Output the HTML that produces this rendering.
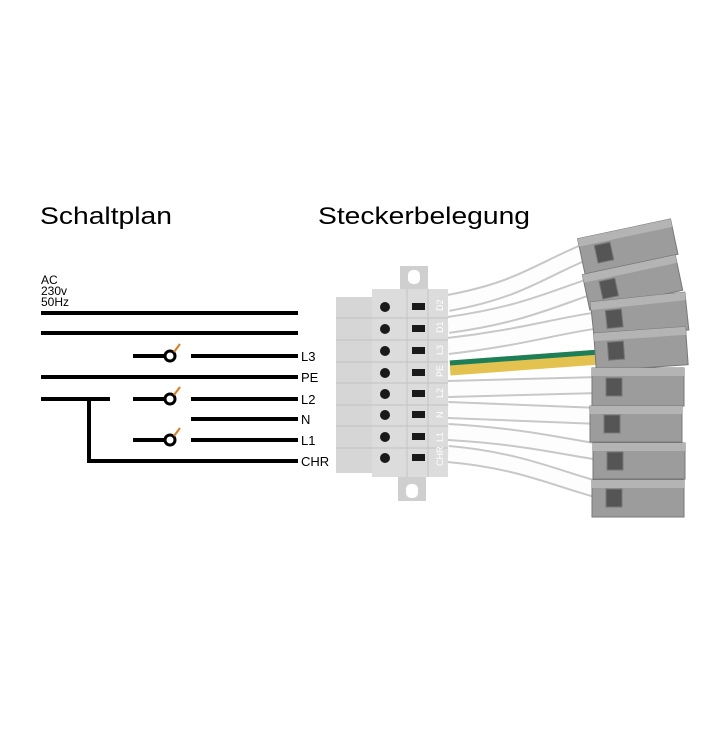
<!DOCTYPE html>
<html><head><style>
body{margin:0;background:#fff}
svg text{font-family:"Liberation Sans",sans-serif}
</style></head><body>
<svg width="724" height="724" xmlns="http://www.w3.org/2000/svg">
<rect width="724" height="724" fill="#fff"/>
<text x="40" y="224" font-size="24" textLength="132" lengthAdjust="spacingAndGlyphs">Schaltplan</text>
<text x="318" y="224" font-size="24" textLength="212" lengthAdjust="spacingAndGlyphs">Steckerbelegung</text>
<text x="41" y="284" font-size="12">AC</text>
<text x="41" y="295" font-size="12">230v</text>
<text x="41" y="306" font-size="12">50Hz</text>
<g stroke="#000" stroke-width="4" fill="none">
<line x1="41" y1="313" x2="298" y2="313"/>
<line x1="41" y1="333" x2="298" y2="333"/>
<line x1="133" y1="356" x2="165" y2="356"/><line x1="191" y1="356" x2="298" y2="356"/>
<line x1="41" y1="377" x2="298" y2="377"/>
<line x1="41" y1="399" x2="110" y2="399"/>
<line x1="133" y1="399" x2="165" y2="399"/><line x1="191" y1="399" x2="298" y2="399"/>
<line x1="191" y1="419" x2="298" y2="419"/>
<line x1="133" y1="440" x2="165" y2="440"/><line x1="191" y1="440" x2="298" y2="440"/>
<polyline points="89,399 89,461 298,461"/>
<circle cx="170" cy="356" r="5" stroke-width="3"/>
<circle cx="170" cy="399" r="5" stroke-width="3"/>
<circle cx="170" cy="440" r="5" stroke-width="3"/>
</g>
<g stroke="#e07a1f" stroke-width="2">
<line x1="174" y1="352" x2="180" y2="344"/>
<line x1="174" y1="395" x2="180" y2="387"/>
<line x1="174" y1="436" x2="180" y2="428"/>
</g>
<g font-size="13">
<text x="301" y="361">L3</text><text x="301" y="382">PE</text><text x="301" y="404">L2</text>
<text x="301" y="424">N</text><text x="301" y="445">L1</text><text x="301" y="466">CHR</text>
</g>
<!-- wires -->
<g fill="none" stroke-width="14">
<g stroke="#c8c8c8" stroke-width="18">
<path d="M448 303 C520 290 540 270 590 250"/>
<path d="M448 325 C520 315 550 300 595 285"/>
<path d="M448 346 C520 338 560 325 600 320"/>
<path d="M448 389 L600 385"/>
<path d="M448 410 L600 416"/>
<path d="M448 432 C520 436 560 446 600 452"/>
<path d="M448 454 C520 460 560 480 600 490"/>
</g>
<g stroke="#fdfdfd">
<path d="M448 303 C520 290 540 270 590 250"/>
<path d="M448 325 C520 315 550 300 595 285"/>
<path d="M448 346 C520 338 560 325 600 320"/>
<path d="M448 389 L600 385"/>
<path d="M448 410 L600 416"/>
<path d="M448 432 C520 436 560 446 600 452"/>
<path d="M448 454 C520 460 560 480 600 490"/>
</g>
<path d="M450 368 L600 357" stroke="#e4c24f" stroke-width="15"/>
<path d="M450 363 L600 352" stroke="#1d7f5a" stroke-width="5"/>
</g>
<!-- connector -->
<rect x="400" y="266" width="28" height="26" fill="#cfcfcf"/>
<rect x="408" y="270" width="12" height="14" rx="5" fill="#fff"/>
<rect x="398" y="476" width="28" height="25" fill="#cfcfcf"/>
<rect x="406" y="484" width="12" height="14" rx="5" fill="#fff"/>
<rect x="336" y="297" width="36" height="176" fill="#d6d6d6"/>
<rect x="372" y="289" width="76" height="188" fill="#dcdcdc"/>
<line x1="407" y1="289" x2="407" y2="477" stroke="#c4c4c4"/>
<line x1="428" y1="289" x2="428" y2="477" stroke="#c4c4c4"/>
<g fill="#1a1a1a">
<circle cx="385" cy="307" r="5"/><circle cx="385" cy="329" r="5"/><circle cx="385" cy="351" r="5"/><circle cx="385" cy="373" r="5"/>
<circle cx="385" cy="394" r="5"/><circle cx="385" cy="415" r="5"/><circle cx="385" cy="437" r="5"/><circle cx="385" cy="458" r="5"/>
<rect x="412" y="303" width="13" height="7"/><rect x="412" y="325" width="13" height="7"/><rect x="412" y="347" width="13" height="7"/><rect x="412" y="369" width="13" height="7"/>
<rect x="412" y="390" width="13" height="7"/><rect x="412" y="411" width="13" height="7"/><rect x="412" y="433" width="13" height="7"/><rect x="412" y="454" width="13" height="7"/>
</g>
<g stroke="#c2c2c2"><line x1="336" y1="318" x2="448" y2="318"/><line x1="336" y1="340" x2="448" y2="340"/><line x1="336" y1="362" x2="448" y2="362"/><line x1="336" y1="383" x2="448" y2="383"/><line x1="336" y1="405" x2="448" y2="405"/><line x1="336" y1="426" x2="448" y2="426"/><line x1="336" y1="448" x2="448" y2="448"/></g>
<g font-size="9" fill="#fff">
<text transform="translate(443,311) rotate(-90)">D2</text><text transform="translate(443,333) rotate(-90)">D1</text>
<text transform="translate(443,355) rotate(-90)">L3</text><text transform="translate(443,377) rotate(-90)">PE</text>
<text transform="translate(443,398) rotate(-90)">L2</text><text transform="translate(443,418) rotate(-90)">N</text>
<text transform="translate(443,442) rotate(-90)">L1</text><text transform="translate(443,466) rotate(-90)">CHR</text>
</g>
<!-- gray blocks -->
<g fill="#9c9c9c" stroke="#777">
<g transform="rotate(-12 630 245)"><rect x="580" y="228" width="95" height="36"/><rect x="580" y="228" width="95" height="8" fill="#b4b4b4" stroke="none"/><rect x="595" y="238" width="16" height="18" fill="#555"/></g>
<g transform="rotate(-12 635 282)"><rect x="585" y="264" width="95" height="36"/><rect x="585" y="264" width="95" height="8" fill="#b4b4b4" stroke="none"/><rect x="600" y="274" width="16" height="18" fill="#555"/></g>
<g transform="rotate(-6 640 315)"><rect x="592" y="297" width="95" height="38"/><rect x="592" y="297" width="95" height="8" fill="#b4b4b4" stroke="none"/><rect x="606" y="307" width="16" height="18" fill="#555"/></g>
<g transform="rotate(-4 640 350)"><rect x="595" y="330" width="92" height="38"/><rect x="595" y="330" width="92" height="8" fill="#b4b4b4" stroke="none"/><rect x="608" y="340" width="16" height="18" fill="#555"/></g>
<rect x="592" y="368" width="92" height="38"/><rect x="592" y="368" width="92" height="8" fill="#b4b4b4" stroke="none"/><rect x="606" y="378" width="16" height="18" fill="#555"/>
<rect x="590" y="406" width="92" height="36"/><rect x="590" y="406" width="92" height="8" fill="#b4b4b4" stroke="none"/><rect x="604" y="415" width="16" height="18" fill="#555"/>
<rect x="593" y="443" width="92" height="36"/><rect x="593" y="443" width="92" height="8" fill="#b4b4b4" stroke="none"/><rect x="607" y="452" width="16" height="18" fill="#555"/>
<rect x="592" y="480" width="92" height="37"/><rect x="592" y="480" width="92" height="8" fill="#b4b4b4" stroke="none"/><rect x="606" y="489" width="16" height="18" fill="#555"/>
</g>
</svg>
</body></html>
